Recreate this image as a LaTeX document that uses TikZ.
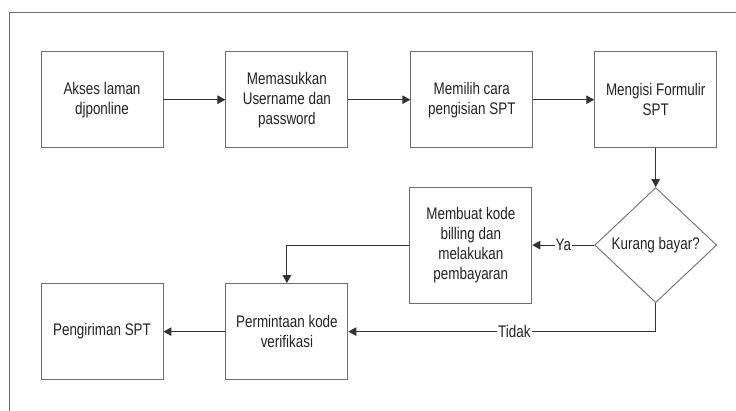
\documentclass[tikz,border=0pt]{standalone}
\usepackage{fontspec}
\setmainfont{Liberation Sans}[FakeStretch=0.8]
\usepackage{tikz}
\usetikzlibrary{positioning}
\usetikzlibrary{calc}
\usetikzlibrary{arrows.meta}
\usetikzlibrary{shapes.geometric}

\definecolor{frameGray}{HTML}{6E6E6E}
\definecolor{lineGray}{HTML}{333333}
\definecolor{textGray}{HTML}{222222}

\tikzset{
	stepbox/.style={
		draw=frameGray,
		line width=0.9pt,
		align=center,
		text=textGray,
		minimum width=122pt,
		minimum height=96pt,
		inner sep=2pt
	},
	flow/.style={
		draw=lineGray,
		line width=1pt,
		-{Triangle[length=8pt,width=8.5pt]}
	},
	flowlabel/.style={
		fill=white,
		text=textGray,
		inner sep=1pt
	}
}

\begin{document}
\begin{tikzpicture}[x=1pt, y=-1pt, font=\fontsize{16.8}{20}\selectfont]

\useasboundingbox (0,0) rectangle (736,411);

% frame
\draw[frameGray, line width=0.9pt] (9,411) -- (9,12.5) -- (736,12.5);

\node[
	stepbox
] (akses) at (102,99.7) {Akses laman\\djponline};

\node[
	stepbox,
	right=62pt of akses
] (memasukkan) {Memasukkan\\Username dan\\password};

\node[
	stepbox,
	right=62pt of memasukkan
] (memilih) {Memilih cara\\pengisian SPT};

\node[
	stepbox,
	right=61pt of memilih
] (mengisi) {Mengisi Formulir\\SPT};

\node[
	draw=frameGray,
	line width=0.9pt,
	diamond,
	aspect=1.06,
	inner sep=0pt,
	text=textGray,
	minimum width=122pt,
	minimum height=115pt,
	below=39pt of mengisi
] (kurang) {Kurang bayar?};

\node[
	stepbox,
	minimum height=116pt,
	left=62pt of kurang
] (membuat) {Membuat kode\\billing dan\\melakukan\\pembayaran};

\node[
	stepbox,
	below=135pt of memasukkan
] (permintaan) {Permintaan kode\\verifikasi};

\node[
	stepbox,
	left=62pt of permintaan
] (pengiriman) {Pengiriman SPT};

% ---

\draw[flow] (akses.east) -- (memasukkan.west);

\draw[flow] (memasukkan.east) -- (memilih.west);

\draw[flow] (memilih.east) -- (mengisi.west);

\draw[flow] (mengisi.south) -- (kurang.north);

\draw[flow] (kurang.west) -- (membuat.east)
	node[midway, flowlabel]{Ya};

\draw[flow] (membuat.west) -| (permintaan.north);

\draw[flow] (kurang.south) |- (permintaan.east)
	node[pos=0.73, flowlabel]{Tidak};

\draw[flow] (permintaan.west) -- (pengiriman.east);

\end{tikzpicture}
\end{document}
